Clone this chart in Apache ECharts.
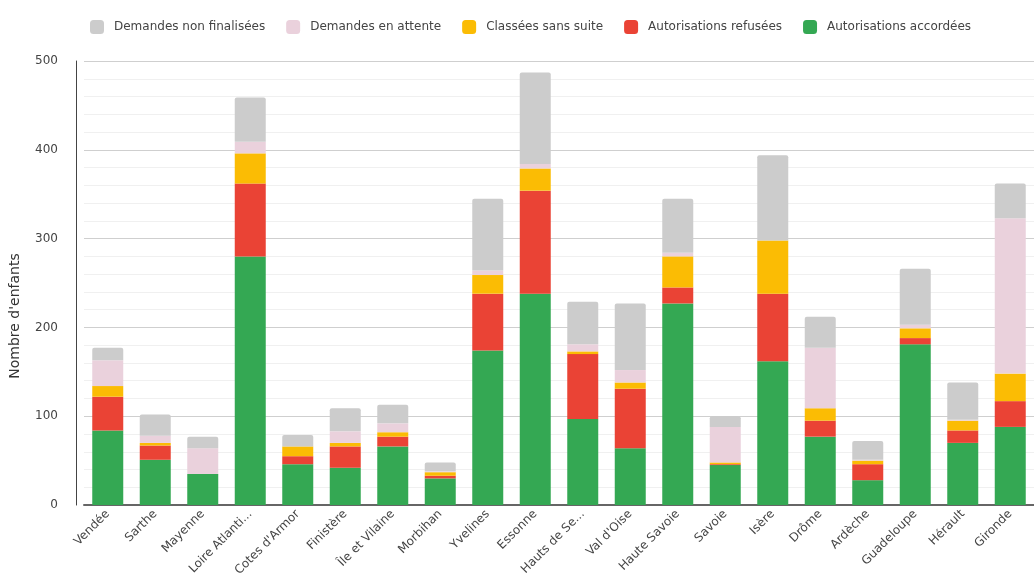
<!DOCTYPE html>
<html>
<head>
<meta charset="utf-8">
<style>
  html, body { margin: 0; padding: 0; background: #ffffff; }
  #chart { width: 1034px; height: 579px; }
</style>
<script src="https://cdn.jsdelivr.net/npm/echarts@6/dist/echarts.min.js"></script>
</head>
<body>
<div id="chart"></div>
<script>
// Départements
const categories = [
  "Vendée", "Sarthe", "Mayenne", "Loire Atlantique", "Cotes d'Armor",
  "Finistère", "Île et Vilaine", "Morbihan", "Yvelines", "Essonne",
  "Hauts de Seine", "Val d'Oise", "Haute Savoie", "Savoie", "Isère",
  "Drôme", "Ardèche", "Guadeloupe", "Hérault", "Gironde"
];

// Nombre d'enfants par statut de demande (empilés de bas en haut)
const accordees     = [84, 51, 35, 280, 46, 42, 66, 30, 174, 238, 97, 64, 227, 45, 162, 77, 28, 181, 70, 88];
const refusees      = [38, 16, 0, 82, 9, 24, 11, 3, 64, 116, 73, 67, 18, 1, 76, 18, 18, 7, 14, 29];
const sansSuite     = [12, 3, 0, 34, 11, 4, 5, 4, 21, 25, 3, 7, 35, 2, 60, 14, 4, 11, 11, 31];
const enAttente     = [29, 8, 29, 13, 0, 13, 10, 1, 5, 5, 8, 14, 4, 40, 0, 68, 1, 4, 1, 175];
const nonFinalisees = [14, 24, 13, 50, 13, 26, 21, 10, 81, 103, 48, 75, 61, 12, 96, 35, 21, 63, 42, 39];

const yTicks = { min: 0, max: 500, interval: 100 };

const seriesDefs = [
  { name: "Autorisations accordées", data: accordees, color: "#34a853" },
  { name: "Autorisations refusées", data: refusees, color: "#ea4335" },
  { name: "Classées sans suite", data: sansSuite, color: "#fbbc04" },
  { name: "Demandes en attente", data: enAttente, color: "#ead1dc" },
  { name: "Demandes non finalisées", data: nonFinalisees, color: "#cccccc" }
];

const FONT = "DejaVu Sans";
const chart = echarts.init(document.getElementById("chart"), null, { renderer: "canvas" });

chart.setOption({
  animation: false,
  textStyle: { fontFamily: FONT },
  legend: {
    top: 15,
    left: 85,
    itemWidth: 14,
    itemHeight: 14,
    itemGap: 21,
    icon: "roundRect",
    data: seriesDefs.map(s => s.name).reverse(),
    textStyle: { fontFamily: FONT, fontSize: 12, color: "#444", padding: [0, 0, 0, 5] }
  },
  grid: { left: 77, right: 0, top: 61, bottom: 73, containLabel: false },
  xAxis: {
    type: "category",
    data: categories,
    axisLine: { lineStyle: { color: "#666", width: 2 } },
    axisTick: { show: false },
    axisLabel: {
      rotate: 45,
      interval: 0,
      margin: 7,
      fontFamily: FONT,
      fontSize: 12,
      color: "#444",
      width: 88,
      overflow: "truncate",
      ellipsis: "..."
    }
  },
  yAxis: {
    type: "value",
    min: yTicks.min,
    max: yTicks.max,
    interval: yTicks.interval,
    offset: 8,
    name: "Nombre d'enfants",
    nameLocation: "middle",
    nameGap: 54,
    nameTextStyle: { fontFamily: FONT, fontSize: 14, color: "#333", padding: [0, 66, 0, 0] },
    axisLine: { show: true, lineStyle: { color: "#444", width: 1 } },
    axisTick: { show: false },
    axisLabel: { fontFamily: FONT, fontSize: 12, color: "#444", margin: 18 },
    splitLine: { lineStyle: { color: "#cfcfcf", width: 1 } },
    minorTick: { show: false, splitNumber: 5 },
    minorSplitLine: { show: true, lineStyle: { color: "#f0f0f0", width: 1 } }
  },
  series: seriesDefs.map((s, i) => ({
    name: s.name,
    type: "bar",
    stack: "total",
    barWidth: 31,
    data: s.data,
    itemStyle: {
      color: s.color,
      borderRadius: i === seriesDefs.length - 1 ? [2, 2, 0, 0] : 0
    },
    emphasis: { disabled: true }
  }))
});
</script>
</body>
</html>
